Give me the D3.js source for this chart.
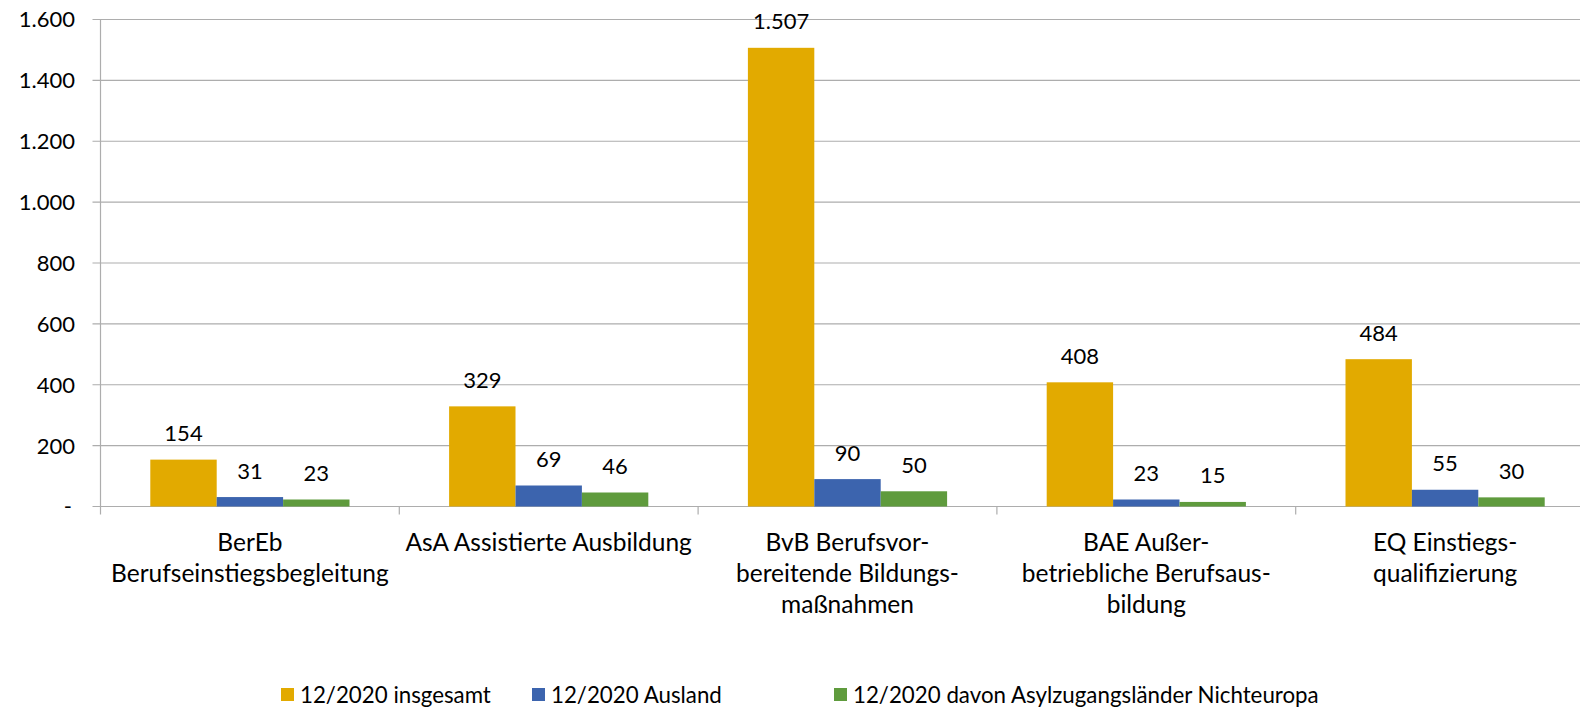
<!DOCTYPE html>
<html>
<head>
<meta charset="utf-8">
<script src="https://cdn.jsdelivr.net/npm/d3@7"></script>
<style>
  body { margin: 0; background: #fff; }
  svg { display: block; font-family: Lato, "Open Sans", sans-serif; }
  .tickText { font-size: 22px; fill: #000; }
  .catText { font-size: 24.5px; fill: #000; }
  .legendText { font-size: 22.3px; fill: #000; }
</style>
</head>
<body>
<div id="chart"></div>
<script>
// categories (label lines as shown on the axis)
var categories = ["BerEb", "AsA", "BvB", "BAE", "EQ"];
var categoryLines = [
    ["BerEb", "Berufseinstiegsbegleitung"],
    ["AsA Assistierte Ausbildung"],
    ["BvB Berufsvor-", "bereitende Bildungs-", "maßnahmen"],
    ["BAE Außer-", "betriebliche Berufsaus-", "bildung"],
    ["EQ Einstiegs-", "qualifizierung"]
];
var seriesNames = ["12/2020 insgesamt", "12/2020 Ausland", "12/2020 davon Asylzugangsländer Nichteuropa"];
var insgesamt = [154, 329, 1507, 408, 484];
var ausland = [31, 69, 90, 23, 55];
var asyl = [23, 46, 50, 15, 30];
var seriesColors = ["#E2AA00", "#3C64AE", "#5F9B3D"];
var yTicks = [0, 200, 400, 600, 800, 1000, 1200, 1400, 1600];

var svgWidth = 1580;
var svgHeight = 708;
var margin = { top: 19.5, left: 100.5 };
var plotRight = 1594.5;
var plotBottom = 506.5;

var svg = d3.select("#chart")
    .append("svg")
    .attr("width", svgWidth)
    .attr("height", svgHeight);

var fmt = d3.formatLocale({ decimal: ",", thousands: ".", grouping: [3], currency: ["", "€"] }).format(",d");
function label(v) { return v === 0 ? "-" : fmt(v); }

var x0 = d3.scaleBand()
    .domain(categories)
    .range([margin.left, plotRight])
    .paddingInner(0)
    .paddingOuter(0);

var x1 = d3.scaleBand()
    .domain([0, 1, 2])
    .range([0, x0.bandwidth()])
    .paddingInner(0)
    .paddingOuter(0.75);

var y = d3.scaleLinear()
    .domain([0, 1600])
    .range([plotBottom, margin.top]);

// gridlines
svg.append("g")
    .selectAll("line")
    .data(yTicks)
    .enter()
    .append("line")
    .attr("x1", margin.left - 8)
    .attr("x2", plotRight)
    .attr("y1", d => y(d))
    .attr("y2", d => y(d))
    .attr("stroke", "#ADADAD")
    .attr("stroke-width", 1.2);

// y axis line
svg.append("line")
    .attr("x1", margin.left).attr("x2", margin.left)
    .attr("y1", margin.top).attr("y2", plotBottom + 8)
    .attr("stroke", "#ADADAD")
    .attr("stroke-width", 1.2);

// y tick labels
svg.append("g")
    .selectAll("text")
    .data(yTicks)
    .enter()
    .append("text")
    .attr("class", "tickText")
    .attr("x", d => d === 0 ? 72 : 75)
    .attr("y", d => y(d))
    .attr("dy", "0.36em")
    .attr("text-anchor", "end")
    .text(d => label(d));

// category boundary ticks
svg.append("g")
    .selectAll("line")
    .data(categories.slice(1))
    .enter()
    .append("line")
    .attr("x1", d => x0(d))
    .attr("x2", d => x0(d))
    .attr("y1", plotBottom)
    .attr("y2", plotBottom + 8)
    .attr("stroke", "#ADADAD")
    .attr("stroke-width", 1.2);

// bars
var rows = [];
categories.forEach(function(c, i) {
    [insgesamt[i], ausland[i], asyl[i]].forEach(function(v, s) {
        rows.push({ cat: c, s: s, value: v });
    });
});

var bars = svg.append("g");
bars.selectAll("rect")
    .data(rows)
    .enter()
    .append("rect")
    .attr("x", d => x0(d.cat) + x1(d.s))
    .attr("y", d => y(d.value))
    .attr("width", x1.bandwidth())
    .attr("height", d => plotBottom - y(d.value))
    .attr("fill", d => seriesColors[d.s]);

bars.selectAll("text")
    .data(rows)
    .enter()
    .append("text")
    .attr("class", "tickText")
    .attr("x", d => x0(d.cat) + x1(d.s) + x1.bandwidth() / 2)
    .attr("y", d => y(d.value) - 18.5)
    .attr("text-anchor", "middle")
    .text(d => label(d.value));

// category labels
var catLabels = svg.append("g")
    .selectAll("text")
    .data(categories)
    .enter()
    .append("text")
    .attr("class", "catText")
    .attr("text-anchor", "middle")
    .attr("x", d => x0(d) + x0.bandwidth() / 2)
    .attr("y", 551);

catLabels.selectAll("tspan")
    .data((d, i) => categoryLines[i])
    .enter()
    .append("tspan")
    .attr("x", function() { return d3.select(this.parentNode).attr("x"); })
    .attr("dy", (d, i) => i === 0 ? 0 : 31.2)
    .text(d => d);

// legend
var legendX = [281, 532, 834];
var legend = svg.append("g")
    .selectAll("g")
    .data(seriesNames)
    .enter()
    .append("g")
    .attr("transform", (d, i) => `translate(${legendX[i]}, 688)`);

legend.append("rect")
    .attr("width", 13)
    .attr("height", 13)
    .attr("fill", (d, i) => seriesColors[i]);

legend.append("text")
    .attr("class", "legendText")
    .attr("x", 19)
    .attr("y", 14.5)
    .text(d => d);
</script>
</body>
</html>
